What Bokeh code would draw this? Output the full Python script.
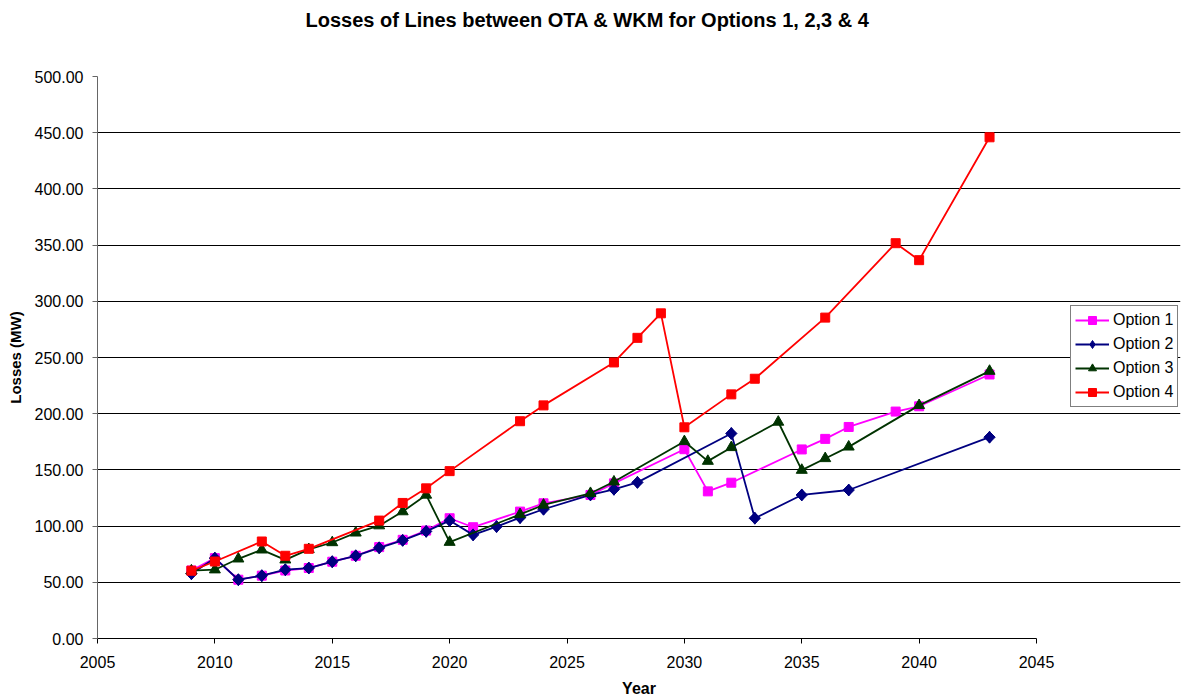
import math
from bokeh.plotting import figure
from bokeh.models import FixedTicker, NumeralTickFormatter, Legend, LegendItem, Title, Range1d
from bokeh.embed import file_html
from bokeh.resources import INLINE

# ---- data ----
title_text = "Losses of Lines between OTA & WKM for Options 1, 2,3 & 4"
series_names = ["Option 1", "Option 2", "Option 3", "Option 4"]

years_1 = [2009, 2010, 2011, 2012, 2013, 2014, 2015, 2016, 2017, 2018, 2019, 2020, 2021,
           2023, 2024, 2026, 2027, 2030, 2031, 2032, 2035, 2036, 2037, 2039, 2040, 2043]
loss_1 = [60.5, 71.5, 52.3, 55.9, 60.5, 62.7, 68.3, 73.6, 81.3, 87.8, 96.0, 107.0, 99.0,
          112.9, 120.3, 127.7, 138.0, 168.4, 130.9, 138.6, 168.2, 177.6, 188.2, 201.9, 206.6, 234.9]

years_2 = [2009, 2010, 2011, 2012, 2013, 2014, 2015, 2016, 2017, 2018, 2019, 2020, 2021, 2022,
           2023, 2024, 2026, 2027, 2028, 2032, 2033, 2035, 2037, 2043]
loss_2 = [57.6, 71.5, 52.3, 55.9, 61.2, 62.7, 68.3, 73.6, 80.7, 87.3, 95.3, 104.9, 92.2, 99.6,
          107.5, 115.0, 127.7, 132.7, 138.9, 182.4, 107.0, 127.7, 132.1, 179.1]

years_3 = [2009, 2010, 2011, 2012, 2013, 2014, 2015, 2016, 2017, 2018, 2019, 2020,
           2023, 2024, 2026, 2027, 2030, 2031, 2032, 2034, 2035, 2036, 2037, 2040, 2043]
loss_3 = [60.3, 61.2, 70.9, 78.9, 70.0, 79.3, 85.4, 94.0, 100.4, 112.9, 127.7, 85.7,
          110.4, 118.8, 129.2, 139.4, 175.3, 157.8, 170.0, 192.6, 149.8, 160.2, 170.5, 207.4, 237.9]

years_4 = [2009, 2010, 2012, 2013, 2014, 2017, 2018, 2019, 2020, 2023, 2024, 2027, 2028,
           2029, 2030, 2032, 2033, 2036, 2039, 2040, 2043]
loss_4 = [60.3, 68.5, 86.3, 73.6, 79.8, 104.9, 120.6, 133.6, 148.9, 193.3, 207.4, 245.6, 267.5,
          289.3, 187.9, 217.2, 231.1, 285.5, 351.7, 336.6, 445.9]

x_ticks = [2005, 2010, 2015, 2020, 2025, 2030, 2035, 2040, 2045]
y_ticks = [0, 50, 100, 150, 200, 250, 300, 350, 400, 450, 500]

FONT = "Liberation Sans"

# layout: plot area 97..1036 px for 2005..2045; frame extended right to hold the legend
W, H = 1185, 699
LEFT, RIGHT_PAD, TOP, BOTTOM = 97, 5, 76, 60
px_per_year = (1036 - LEFT) / (x_ticks[-1] - x_ticks[0])
x_end = x_ticks[0] + (W - LEFT - RIGHT_PAD) / px_per_year

title = Title(text=title_text, align="left", offset=208, standoff=0,
              text_font=FONT, text_font_size="20px", text_font_style="bold", text_color="black")

p = figure(width=W, height=H, output_backend="svg", toolbar_location=None, title=title,
           x_range=Range1d(x_ticks[0], x_end), y_range=Range1d(0, 500),
           min_border_left=LEFT, min_border_right=RIGHT_PAD,
           min_border_top=TOP, min_border_bottom=BOTTOM)
p.outline_line_color = None
p.background_fill_color = "white"
p.border_fill_color = "white"

# spacer between frame and title
spacer = Title(text=" ", standoff=43, text_font_size="1px")
p.add_layout(spacer, "above")

# axes
p.xaxis.ticker = FixedTicker(ticks=x_ticks)
p.yaxis.ticker = FixedTicker(ticks=y_ticks)
p.yaxis.formatter = NumeralTickFormatter(format="0.00")
p.xaxis.bounds = (x_ticks[0], x_ticks[-1])
for ax in (p.xaxis, p.yaxis):
    ax.major_label_text_font = FONT
    ax.major_label_text_font_size = "16px"
    ax.major_label_text_color = "black"
    ax.axis_label_text_font = FONT
    ax.axis_label_text_font_style = "bold"
    ax.axis_label_text_color = "black"
    ax.minor_tick_line_color = None
    ax.major_tick_in = 0
    ax.major_tick_out = 5
p.xaxis.axis_label = "Year"
p.yaxis.axis_label = "Losses (MW)"
p.xaxis.axis_label_text_font_size = "16px"
p.yaxis.axis_label_text_font_size = "15px"
p.xaxis.axis_line_color = "black"
p.xaxis.major_tick_line_color = "black"
p.yaxis.axis_line_color = "#666666"
p.yaxis.major_tick_line_color = "#666666"
p.xaxis.major_label_standoff = 12
p.xaxis.axis_label_standoff = 9
p.yaxis.major_label_standoff = 9
p.yaxis.axis_label_standoff = 8

p.xgrid.grid_line_color = None
p.ygrid.grid_line_color = "black"
p.ygrid.grid_line_width = 1
p.ygrid.bounds = (x_ticks[0], x_ticks[-1])

colors = ["#FF00FF", "#000080", "#003300", "#FF0000"]
markers = ["square", "square", "triangle", "square"]
legend_markers = ["square", "diamond", "triangle", "square"]
angles = [0, math.pi / 4, 0, 0]
sizes = [9, 8, 11, 9]
legend_sizes = [9, 12, 11, 9]
data = [(years_1, loss_1), (years_2, loss_2), (years_3, loss_3), (years_4, loss_4)]

items = []
for name, (xs, ys), c, m, lm, a, s, ls in zip(series_names, data, colors, markers,
                                               legend_markers, angles, sizes, legend_sizes):
    lr = p.line(xs, ys, line_color=c, line_width=1.8)
    if lm != m:
        # legend-shaped marker underneath the rotated-square marker (legend ignores angle)
        gr = p.scatter(xs, ys, marker=lm, size=ls, fill_color=c, line_color=c)
        sr = p.scatter(xs, ys, marker=m, size=s, angle=a, fill_color=c, line_color=c)
        items.append(LegendItem(label=name, renderers=[lr, gr]))
    else:
        sr = p.scatter(xs, ys, marker=m, size=s, angle=a, fill_color=c, line_color=c)
        items.append(LegendItem(label=name, renderers=[lr, sr]))

legend = Legend(items=items, location=(1070 - LEFT, 231), margin=0, padding=4, spacing=4,
                glyph_width=34, glyph_height=20, label_height=20, label_standoff=4,
                label_text_font=FONT, label_text_font_size="16px", label_text_color="black",
                border_line_color="black", border_line_width=1, background_fill_color="white",
                background_fill_alpha=1.0)
p.add_layout(legend, "center")

open("out.html", "w").write(file_html(p, INLINE))
